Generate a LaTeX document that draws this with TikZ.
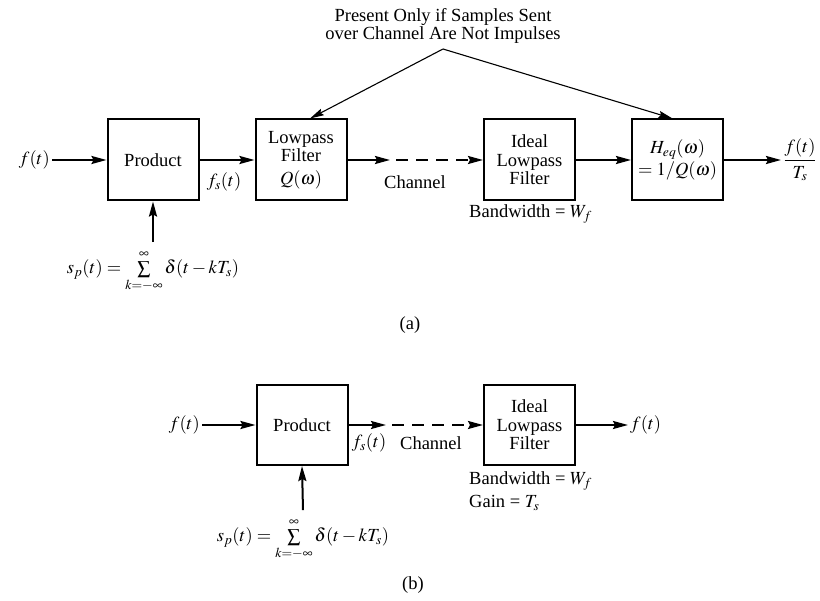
\documentclass[tikz,border=0pt]{standalone}
\usepackage{mathptmx}
\usepackage{fontspec}
\setmainfont{Liberation Serif}
\usetikzlibrary{arrows.meta}

\begin{document}
\begin{tikzpicture}[x=1pt,y=-1pt,
  every node/.style={font=\fontsize{18.5}{18.5}\selectfont, inner sep=2pt},
  block/.style={draw, line width=2pt, minimum width=91pt, minimum height=81pt,
                align=center, inner sep=0pt},
  sig/.style={line width=2pt, -{Stealth[length=15pt,width=8pt,inset=2pt]}},
  chan/.style={sig, dash pattern=on 12pt off 8pt, dash phase=14pt},
  note/.style={line width=1.1pt, -{Stealth[length=14pt,width=7pt,inset=2pt]}}]

\useasboundingbox (0,0) rectangle (820,601);

% ---------------- (a) system with lowpass filter and equalizer
\node[anchor=east] (fA) at (52,160) {$f(t)$};
\node[block] (prodA) at (153,160) {Product};
\node[block] (lpfA) at (301,160) {Lowpass\\Filter\\[4pt]$Q(\omega)$};
\node[block] (idealA) at (529.5,160) {Ideal\\Lowpass\\Filter};
\node[block] (heqA) at (677.5,160) {$H_{eq}(\omega)$\\[2pt]$=1/Q(\omega)$};
\node (outA) at (800,160) {$\displaystyle\frac{f(t)}{T_s}$};
\coordinate (chA) at (390,160);
\coordinate (endA) at (781,160);

\node (fsA) at (224,182) {$f_s(t)$};
\node (chanA) at (415,182) {Channel};
\node[anchor=west] (bwA) at (467,214) {Bandwidth = $W_f$};
\node[anchor=base] (spA) at (153,274)
  {$s_p(t) = \sum\limits_{k=-\infty}^{\infty} \delta(t - kT_s)$};

\draw[sig] (fA.east) -- (prodA.west);
\draw[sig] (prodA.east) -- (lpfA.west);
\draw[sig] (lpfA.east) -- (chA);
\draw[chan] (chA) -- (idealA.west);
\draw[sig] (idealA.east) -- (heqA.west);
\draw[sig] (heqA.east) -- (endA);
\draw[sig] ([yshift=6pt]spA.north) -- (prodA.south);

\node[align=center] (noteA) at (443,26)
  {Present Only if Samples Sent\\over Channel Are Not Impulses};
\coordinate (apex) at (443,49);
\draw[note] (apex) -- ([xshift=9pt]lpfA.north);
\draw[note] (apex) -- ([xshift=-5pt]heqA.north);

\node (capA) at (410,325) {(a)};

% ---------------- (b) system with ideal lowpass filter only
\node[anchor=east] (fB) at (202,425) {$f(t)$};
\node[block, minimum height=80pt] (prodB) at (302,425) {Product};
\node[block, minimum height=80pt] (idealB) at (529.5,425) {Ideal\\Lowpass\\Filter};
\node[anchor=west] (outB) at (628,425) {$f(t)$};
\coordinate (chB) at (386,425);

\node (fsB) at (369,443) {$f_s(t)$};
\node (chanB) at (431,443) {Channel};
\node[anchor=west] (bwB) at (467,481) {Bandwidth = $W_f$};
\node[anchor=west] (gainB) at (467,503) {Gain = $T_s$};
\node[anchor=base] (spB) at (303,542)
  {$s_p(t) = \sum\limits_{k=-\infty}^{\infty} \delta(t - kT_s)$};

\draw[sig] (fB.east) -- (prodB.west);
\draw[sig] (prodB.east) -- (chB);
\draw[chan] (chB) -- (idealB.west);
\draw[sig] (idealB.east) -- (outB.west);
\draw[sig] ([yshift=6pt]spB.north) -- (prodB.south);

\node (capB) at (413,585) {(b)};
\end{tikzpicture}
\end{document}
